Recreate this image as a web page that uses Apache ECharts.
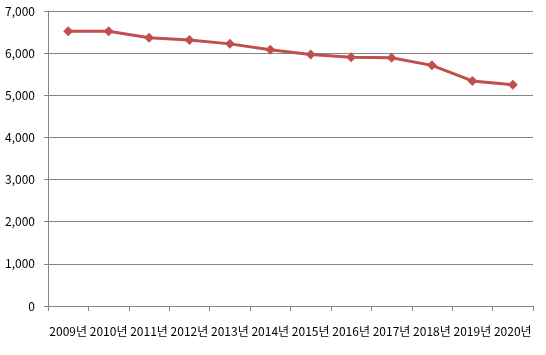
<!DOCTYPE html>
<html>
<head>
<meta charset="utf-8">
<script src="https://cdn.jsdelivr.net/npm/echarts@6/dist/echarts.min.js"></script>
<style>
html, body { margin: 0; padding: 0; background: #fff; }
#chart { width: 546px; height: 355px; }
</style>
</head>
<body>
<div id="chart"></div>
<script>
var years = ['2009년', '2010년', '2011년', '2012년', '2013년', '2014년', '2015년', '2016년', '2017년', '2018년', '2019년', '2020년'];
var values = [6520, 6520, 6365, 6310, 6220, 6080, 5970, 5900, 5890, 5710, 5340, 5250];

var font = '"Noto Sans CJK KR", "Noto Sans", sans-serif';
var myChart = echarts.init(document.getElementById('chart'));
myChart.setOption({
    animation: false,
    grid: { left: 48, right: 13, top: 11, bottom: 49, containLabel: false },
    xAxis: {
        type: 'category',
        data: years,
        boundaryGap: true,
        axisLine: { lineStyle: { color: '#868686', width: 1 } },
        axisTick: { show: true, length: 5, lineStyle: { color: '#868686' } },
        axisLabel: { interval: 0, color: '#000', fontSize: 12, fontFamily: font, margin: 19 }
    },
    yAxis: {
        type: 'value',
        min: 0,
        max: 7000,
        interval: 1000,
        axisLine: { show: true, lineStyle: { color: '#868686', width: 1 } },
        axisTick: { show: true, length: 4, lineStyle: { color: '#868686' } },
        splitLine: { lineStyle: { color: '#868686', width: 1 } },
        axisLabel: {
            color: '#000', fontSize: 12, fontFamily: font, margin: 13,
            formatter: function (v) { return v.toLocaleString('en-US'); }
        }
    },
    series: [{
        type: 'line',
        data: values,
        symbol: 'diamond',
        symbolSize: 10,
        lineStyle: { color: '#C0504D', width: 3 },
        itemStyle: { color: '#C0504D' }
    }]
});
</script>
</body>
</html>
